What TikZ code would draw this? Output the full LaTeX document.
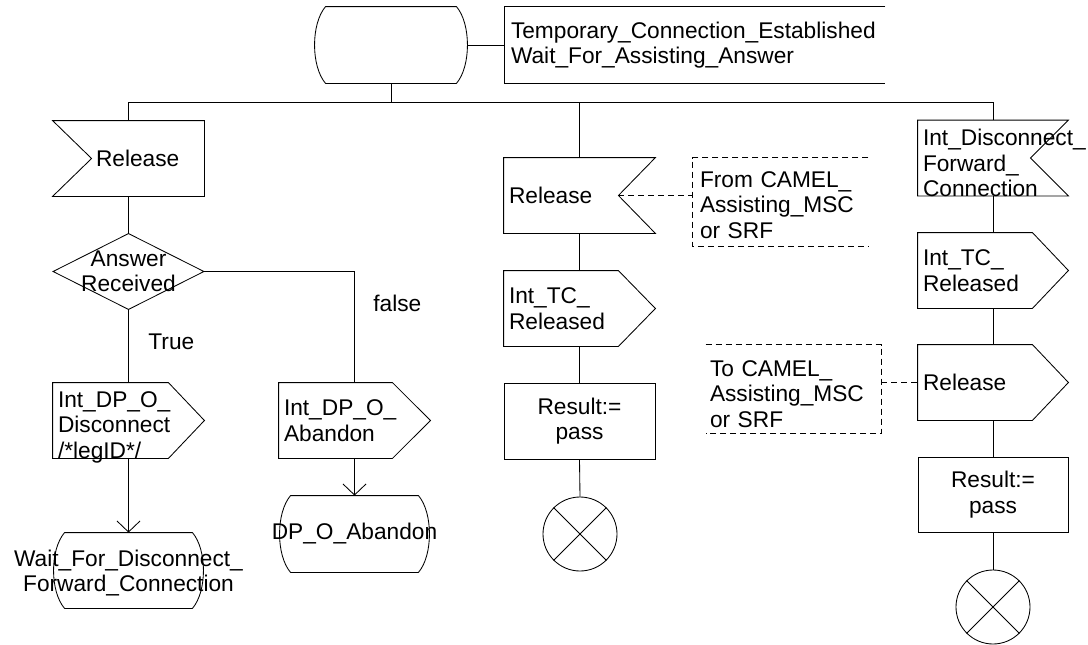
\documentclass[tikz,border=0pt]{standalone}
\usepackage{fontspec}
\setmainfont{Liberation Sans}
\usetikzlibrary{arrows.meta}
% SDL shape helpers, drawn from the anchors of a named node
\newcommand{\sdlinL}[2]{\draw (#1.north west) -- (#1.north east) -- (#1.south east) -- (#1.south west) -- ([xshift=#2pt]#1.west) -- cycle;}
\newcommand{\sdlinR}[2]{\draw (#1.north west) -- (#1.north east) -- ([xshift=-#2pt]#1.east) -- (#1.south east) -- (#1.south west) -- cycle;}
\newcommand{\sdlout}[2]{\draw (#1.north west) -- ([xshift=-#2pt]#1.north east) -- (#1.east) -- ([xshift=-#2pt]#1.south east) -- (#1.south west) -- cycle;}
\newcommand{\sdldec}[1]{\draw (#1.north) -- (#1.east) -- (#1.south) -- (#1.west) -- cycle;}
\newcommand{\sdlstate}[1]{\draw ([xshift=11pt]#1.north west) -- ([xshift=-11pt]#1.north east)
  .. controls ([xshift=3.7pt,yshift=-17pt]#1.north east) and ([xshift=3.7pt,yshift=17pt]#1.south east) .. ([xshift=-11pt]#1.south east)
  -- ([xshift=11pt]#1.south west)
  .. controls ([xshift=-3.7pt,yshift=17pt]#1.south west) and ([xshift=-3.7pt,yshift=-17pt]#1.north west) .. cycle;}
\newcommand{\sdlterm}[1]{\draw (#1.north west) -- (#1.south east) (#1.north east) -- (#1.south west);}
\newcommand{\sdlcommL}[1]{\draw[cdash] (#1.north east) -- (#1.north west) -- (#1.south west) -- (#1.south east);}
\newcommand{\sdlcommR}[1]{\draw[cdash] (#1.north west) -- (#1.north east) -- (#1.south east) -- (#1.south west);}
\begin{document}
\begin{tikzpicture}[x=1pt,y=-1pt,
  font=\fontsize{22.7pt}{25.5pt}\selectfont,
  line width=0.85pt,
  sig/.style={rectangle, inner sep=0pt, minimum width=151pt, minimum height=75pt},
  ltext/.style={sig, text width=141pt, align=left},
  ctext/.style={sig, align=center},
  taskbox/.style={sig, draw, align=center},
  term/.style={circle, draw, minimum size=74pt, inner sep=0pt},
  comm/.style={rectangle, inner sep=0pt, minimum width=175pt, minimum height=88pt},
  flowarrow/.style={-{Straight Barb[length=11pt,width=23pt]}},
  cdash/.style={dash pattern=on 6pt off 4pt},
  lbl/.style={inner sep=0pt, anchor=west}
]
\path[fill=white] (0,0) rectangle (1088,645);

% top state and its name box
\node[sig, minimum width=152pt, minimum height=76pt] (state0) at (391,45) {};
\sdlstate{state0}
\node[rectangle, inner sep=0pt, minimum width=380pt, minimum height=76pt, text width=368pt, align=left] (tbox) at (695,45)
  {Temporary\_Connection\_Established\\Wait\_For\_Assisting\_Answer};
\draw (tbox.north east) -- (tbox.north west) -- (tbox.south west) -- (tbox.south east);
\draw (state0.east) -- (tbox.west);

% bus
\coordinate (busL) at (128.5,102);
\coordinate (busR) at (993,102);

% left column
\node[sig, text width=65pt, align=left] (rel1) at (128.5,158.5) {Release};
\sdlinL{rel1}{39}
\node[ctext, minimum width=150pt] (dec) at (128.5,271.5) {Answer\\Received};
\sdldec{dec}
\node[sig, label={[inner sep=0pt, text width=141pt, align=left, yshift=-6.5pt]center:{Int\_DP\_O\_\\Disconnect\\/*legID*/}}] (out1) at (128.5,420.5) {};
\sdlout{out1}{36}
\node[sig, minimum width=149pt, label={[inner sep=0pt, align=center, yshift=-2.5pt]center:{Wait\_For\_Disconnect\_\\Forward\_Connection}}] (wait) at (128.5,570.5) {};
\sdlstate{wait}
\node[lbl] (ltrue) at (148,342) {True};

% false branch
\node[ltext] (out2) at (354.5,420.5) {Int\_DP\_O\_\\Abandon};
\sdlout{out2}{38}
\node[sig, minimum width=149pt, minimum height=76pt, label={[inner sep=0pt]center:DP\_O\_Abandon}] (dpoa) at (354.5,534) {};
\sdlstate{dpoa}
\node[lbl] (lfalse) at (373,303) {false};

% middle column
\node[ltext] (rel2) at (579.5,195.5) {Release};
\sdlinR{rel2}{37}
\node[comm, label={[inner sep=0pt, text width=161pt, align=left, yshift=-3pt]center:{From CAMEL\_\\Assisting\_MSC\\or SRF}}] (fromc) at (780.5,202) {};
\sdlcommL{fromc}
\node[ltext] (tc1) at (579.5,308.5) {Int\_TC\_\\Released};
\sdlout{tc1}{37}
\node[taskbox, minimum height=76pt] (res1) at (579.5,421) {Result:=\\pass};
\node[term] (term1) at (580,534) {};
\sdlterm{term1}

% right column
\node[sig, minimum width=150pt, label={[inner sep=0pt, text width=140pt, align=left, yshift=-5pt]center:{Int\_Disconnect\_\\Forward\_\\Connection}}] (idfc) at (993,158) {};
\sdlinR{idfc}{38}
\node[ltext, minimum width=150pt, text width=140pt] (tc2) at (993,270.5) {Int\_TC\_\\Released};
\sdlout{tc2}{36}
\node[ltext, minimum width=150pt, text width=140pt] (rel3) at (993,382.5) {Release};
\sdlout{rel3}{36}
\node[comm, label={[inner sep=0pt, text width=167pt, align=left, yshift=-5pt]center:{To CAMEL\_\\Assisting\_MSC\\or SRF}}] (toc) at (793.5,389) {};
\sdlcommR{toc}
\node[taskbox, minimum width=150pt] (res2) at (993,494.5) {Result:=\\pass};
\node[term] (term2) at (993,607) {};
\sdlterm{term2}

% connectors
\draw (state0.south) -- (state0.south |- busL);
\draw (busL) -- (busR);
\draw (busL) -- (rel1.north);
\draw (rel2.north |- busL) -- (rel2.north);
\draw (busR) -- (idfc.north);
\draw (rel1.south) -- (dec.north);
\draw (dec.south) -- (out1.north);
\draw (dec.east) -| (out2.north);
\draw[flowarrow] (out1.south) -- (wait.north);
\draw[flowarrow] (out2.south) -- (dpoa.north);
\draw (rel2.south) -- (tc1.north);
\draw (tc1.south) -- (res1.north);
\draw (res1.south) -- (term1.north);
\draw[cdash] ([xshift=-37pt]rel2.east) -- (fromc.west |- rel2.east);
\draw (idfc.south) -- (tc2.north);
\draw (tc2.south) -- (rel3.north);
\draw (rel3.south) -- (res2.north);
\draw (res2.south) -- (term2.north);
\draw[cdash] (toc.east |- rel3.west) -- (rel3.west);
\end{tikzpicture}
\end{document}
